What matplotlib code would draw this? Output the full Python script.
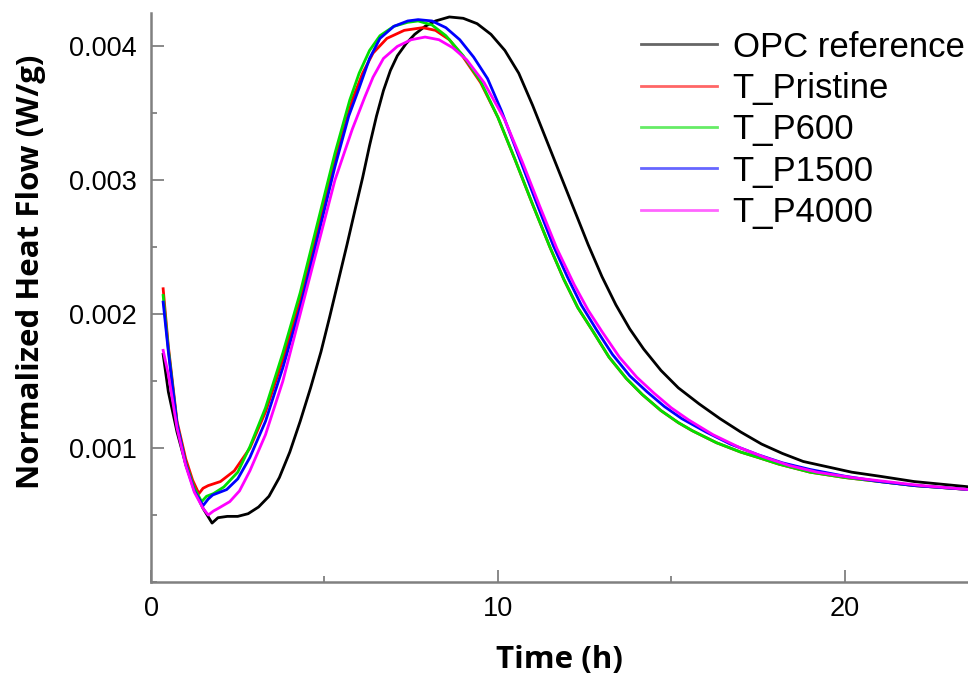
import numpy as np
import matplotlib
matplotlib.use("Agg")
import matplotlib.pyplot as plt
from matplotlib.ticker import MultipleLocator, FormatStrFormatter

# heat flow values below are in mW/g (scaled to W/g when plotted)
t_opc = [0.35, 0.5, 0.75, 1.0, 1.25, 1.5, 1.76, 1.93, 2.2, 2.5, 2.8, 3.1, 3.4, 3.7,
         4.0, 4.3, 4.6, 4.9, 5.15, 5.4, 5.65, 5.9, 6.1, 6.3, 6.5, 6.7, 6.9, 7.1,
         7.35, 7.6, 7.9, 8.2, 8.6, 9.0, 9.4, 9.8, 10.2, 10.6, 11.0, 11.4, 11.8,
         12.2, 12.6, 13.0, 13.4, 13.8, 14.2, 14.7, 15.2, 15.8, 16.4, 17.0, 17.6,
         18.2, 18.8, 19.5, 20.2, 21.0, 22.0, 23.6]
q_opc = [1.70, 1.42, 1.12, 0.88, 0.69, 0.55, 0.44, 0.48, 0.49, 0.49, 0.51, 0.56, 0.64, 0.78,
         0.97, 1.20, 1.45, 1.72, 1.98, 2.25, 2.52, 2.80, 3.02, 3.26, 3.48, 3.67, 3.82, 3.93,
         4.02, 4.09, 4.15, 4.19, 4.22, 4.21, 4.17, 4.09, 3.97, 3.80, 3.56, 3.30, 3.04,
         2.78, 2.52, 2.28, 2.07, 1.89, 1.74, 1.58, 1.45, 1.33, 1.22, 1.12, 1.03,
         0.96, 0.90, 0.86, 0.82, 0.79, 0.75, 0.71]

t_pristine = [0.35, 0.5, 0.75, 1.0, 1.2, 1.38, 1.5, 1.65, 2.0, 2.4, 2.85, 3.3, 3.8, 4.3,
              4.8, 5.3, 5.8, 6.1, 6.4, 6.8, 7.3, 7.83, 8.2, 8.6, 9.0, 9.5, 10.0, 10.5,
              11.0, 11.5, 11.9, 12.3, 12.72, 13.2, 13.7, 14.16, 14.7, 15.2, 15.6, 16.3,
              17.0, 17.5, 18.1, 19.0, 20.0, 21.0, 22.0, 23.6]
q_pristine = [2.19, 1.76, 1.20, 0.92, 0.76, 0.66, 0.70, 0.72, 0.75, 0.83, 1.00, 1.27, 1.66, 2.10,
              2.62, 3.14, 3.60, 3.80, 3.95, 4.06, 4.12, 4.14, 4.12, 4.05, 3.92, 3.73, 3.47, 3.15,
              2.82, 2.50, 2.26, 2.05, 1.88, 1.68, 1.52, 1.40, 1.28, 1.19, 1.13, 1.04,
              0.97, 0.93, 0.88, 0.82, 0.78, 0.75, 0.72, 0.69]

t_p600 = [0.35, 0.5, 0.75, 1.0, 1.25, 1.46, 1.6, 1.8, 2.1, 2.5, 2.85, 3.3, 3.8, 4.3,
          4.8, 5.3, 5.73, 6.0, 6.3, 6.6, 7.0, 7.4, 7.7, 8.1, 8.5, 9.0, 9.5, 10.0, 10.5,
          11.0, 11.5, 11.9, 12.3, 12.72, 13.2, 13.7, 14.16, 14.7, 15.2, 15.6, 16.3,
          17.0, 17.5, 18.1, 19.0, 20.0, 21.0, 22.0, 23.6]
q_p600 = [2.14, 1.74, 1.18, 0.89, 0.70, 0.60, 0.64, 0.66, 0.71, 0.82, 1.01, 1.30, 1.71, 2.16,
          2.68, 3.20, 3.60, 3.80, 3.97, 4.08, 4.15, 4.18, 4.19, 4.16, 4.08, 3.93, 3.74, 3.47, 3.15,
          2.82, 2.50, 2.26, 2.05, 1.88, 1.68, 1.52, 1.40, 1.28, 1.19, 1.13, 1.04,
          0.97, 0.93, 0.88, 0.82, 0.78, 0.75, 0.72, 0.69]

t_p1500 = [0.35, 0.5, 0.75, 1.0, 1.25, 1.5, 1.65, 1.78, 2.18, 2.5, 2.85, 3.3, 3.8, 4.3,
           4.8, 5.3, 5.7, 6.0, 6.3, 6.6, 7.0, 7.4, 7.7, 8.1, 8.5, 8.9, 9.3, 9.7, 10.1,
           10.6, 11.1, 11.6, 12.0, 12.4, 12.85, 13.3, 13.8, 14.3, 14.8, 15.3, 16.0,
           16.7, 17.5, 18.2, 19.0, 20.0, 21.0, 22.0, 23.6]
q_p1500 = [2.09, 1.72, 1.18, 0.88, 0.68, 0.57, 0.62, 0.65, 0.69, 0.77, 0.93, 1.20, 1.60, 2.05,
           2.57, 3.10, 3.48, 3.69, 3.91, 4.06, 4.15, 4.19, 4.20, 4.19, 4.14, 4.05, 3.92, 3.76, 3.52,
           3.18, 2.84, 2.51, 2.28, 2.07, 1.88, 1.70, 1.54, 1.42, 1.31, 1.22, 1.12,
           1.03, 0.95, 0.89, 0.84, 0.79, 0.75, 0.72, 0.69]

t_p4000 = [0.35, 0.5, 0.75, 1.0, 1.25, 1.5, 1.65, 1.8, 1.94, 2.27, 2.55, 2.85, 3.3, 3.8,
           4.3, 4.8, 5.3, 5.8, 6.16, 6.4, 6.7, 7.1, 7.5, 7.9, 8.3, 8.7, 9.1, 9.6, 10.2,
           10.7, 11.2, 11.7, 12.2, 12.6, 13.0, 13.5, 14.0, 14.5, 15.0, 15.5, 16.2,
           17.0, 17.7, 18.4, 19.2, 20.2, 21.2, 22.2, 23.6]
q_p4000 = [1.73, 1.55, 1.15, 0.87, 0.67, 0.55, 0.50, 0.53, 0.55, 0.60, 0.68, 0.83, 1.10, 1.50,
           2.00, 2.50, 3.00, 3.38, 3.62, 3.77, 3.91, 4.00, 4.05, 4.07, 4.05, 3.99, 3.90, 3.73, 3.45,
           3.14, 2.81, 2.49, 2.22, 2.03, 1.87, 1.68, 1.53, 1.41, 1.30, 1.21, 1.10,
           1.00, 0.93, 0.87, 0.82, 0.78, 0.75, 0.72, 0.69]

labels = ["OPC reference", "T_Pristine", "T_P600", "T_P1500", "T_P4000"]
colors = ["black", "#ff0000", "#00e000", "#0000ff", "#ff00ff"]

fig = plt.figure(figsize=(9.68, 6.81), dpi=100)
ax = fig.add_axes([0.156, 0.1454, 0.844, 0.8356])

series = [(t_opc, q_opc), (t_pristine, q_pristine), (t_p600, q_p600),
          (t_p1500, q_p1500), (t_p4000, q_p4000)]
for (t, q), lab, c in zip(series, labels, colors):
    ax.plot(t, np.array(q) / 1000.0, color=c, lw=2.0, label=lab)

ax.set_xlim(0, 23.55)
ax.set_ylim(0, 0.00425)

ax.xaxis.set_major_locator(MultipleLocator(10))
ax.xaxis.set_minor_locator(MultipleLocator(5))
ax.set_yticks([0.001, 0.002, 0.003, 0.004])
ax.yaxis.set_minor_locator(MultipleLocator(0.0005))
ax.yaxis.set_major_formatter(FormatStrFormatter("%.3f"))

for s in ["top", "right"]:
    ax.spines[s].set_visible(False)
for s in ["left", "bottom"]:
    ax.spines[s].set_color("#808080")
    ax.spines[s].set_linewidth(1.8)

ax.tick_params(which="major", direction="in", length=9, width=1.3, color="#808080",
               labelsize=19.5, pad=10)
ax.tick_params(which="minor", direction="in", length=4, width=1.3, color="#808080")
for lbl in ax.get_xticklabels() + ax.get_yticklabels():
    lbl.set_family("Liberation Sans")

ax.set_xlabel("Time (h)", fontsize=22.5, fontweight="bold", family="Open Sans", labelpad=17)
ax.set_ylabel("Normalized Heat Flow (W/g)", fontsize=22.5, fontweight="bold",
              family="Open Sans")
ax.yaxis.set_label_coords(-0.128, 0.545)

leg = ax.legend(loc="upper right", bbox_to_anchor=(1.0, 0.975), frameon=False,
                prop={"family": "Liberation Sans", "size": 25},
                handlelength=2.2, handletextpad=0.45, labelspacing=0.24,
                borderaxespad=0.0, borderpad=0.1)
for h in leg.get_lines():
    h.set_linewidth(2.0)
    h.set_alpha(0.6)

fig.savefig("out.png", dpi=100)
